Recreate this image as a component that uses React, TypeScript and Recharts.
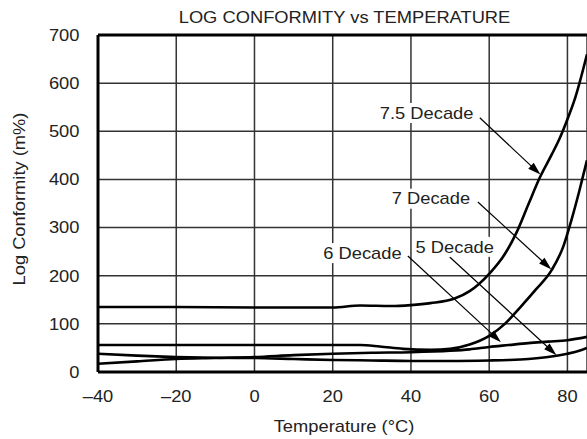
import React from 'react';
import { LineChart, Line, XAxis, YAxis, CartesianGrid, ReferenceLine, ReferenceDot } from 'recharts';

const xTicks = [-40, -20, 0, 20, 40, 60, 80];
const yTicks = [0, 100, 200, 300, 400, 500, 600, 700];

const temp75 = [-40, -20, 0, 20, 27, 35, 40, 45, 51, 55, 60, 64, 67, 70, 73, 76, 78, 80, 82, 85];
const conf75 = [135, 135, 134, 134, 138, 137, 139, 143, 152, 168, 204, 245, 290, 348, 405, 452, 485, 525, 570, 660];

const temp70 = [-40, -20, 0, 20, 27, 32, 38, 45, 50, 55, 60, 64, 68, 72, 76, 79, 81, 83, 85];
const conf70 = [56, 56, 56, 56, 56, 53, 48, 46, 48, 57, 75, 100, 135, 172, 212, 262, 315, 375, 440];

const temp60 = [-40, -30, -20, -10, 0, 10, 20, 30, 40, 50, 55, 60, 65, 70, 75, 80, 85];
const conf60 = [17, 22, 27, 29, 31, 35, 38, 40, 41, 44, 47, 52, 56, 60, 63, 66, 73];

const temp50 = [-40, -30, -20, -10, 0, 10, 20, 30, 40, 50, 60, 65, 70, 75, 80, 83, 85];
const conf50 = [38, 34, 31, 29.5, 29, 27, 25, 24, 23, 23, 24, 25, 27, 31, 38, 44, 50];

const labelText = ['7.5 Decade', '7 Decade', '6 Decade', '5 Decade'];
const labelAt = [[44.0, 538], [45.1, 360], [27.6, 247], [51.2, 260]];
const arrowFrom = [[57.6, 528], [57.1, 353], [39.2, 241], [49.9, 239]];
const arrowTo = [[73.1, 410], [75.9, 213], [63.0, 62], [77.2, 35]];

const toPoints = (t: number[], c: number[]) => t.map((x, i) => ({ x, y: c[i] }));

const seriesList = [
  { name: '7.5 Decade', data: toPoints(temp75, conf75) },
  { name: '7 Decade', data: toPoints(temp70, conf70) },
  { name: '6 Decade', data: toPoints(temp60, conf60) },
  { name: '5 Decade', data: toPoints(temp50, conf50) },
];

const FONT = '"Liberation Sans", Arial, sans-serif';
const SX = 1.145;
const TXT = '#222';

const fmtX = (v: number) => (v < 0 ? '\u2013' + Math.abs(v) : String(v));

const WideText = ({ x, y, anchor, children, rotate = 0, baseline }: any) => (
  <text
    transform={`translate(${x},${y}) rotate(${rotate}) scale(${SX},1)`}
    x={0}
    y={0}
    textAnchor={anchor}
    dominantBaseline={baseline}
    fontFamily={FONT}
    fontSize={16}
    fill={TXT}
  >
    {children}
  </text>
);

const XTick = (p: any) => (
  <WideText x={p.x} y={401.5} anchor="middle">
    {fmtX(p.payload.value)}
  </WideText>
);

const YTick = (p: any) => (
  <WideText x={79.5} y={p.y + 5.8} anchor="end">
    {String(p.payload.value)}
  </WideText>
);

const Arrow = (p: any) => {
  const { x1, y1, x2, y2 } = p;
  const dx = x2 - x1;
  const dy = y2 - y1;
  const len = Math.hypot(dx, dy) || 1;
  const ux = dx / len;
  const uy = dy / len;
  const hl = 13;
  const hw = 4;
  const bx = x2 - ux * hl;
  const by = y2 - uy * hl;
  const pts = `${x2},${y2} ${bx - uy * hw},${by + ux * hw} ${bx + uy * hw},${by - ux * hw}`;
  return (
    <g>
      <line x1={x1} y1={y1} x2={bx + ux * 2} y2={by + uy * 2} stroke="#000" strokeWidth={1.2} />
      <polygon points={pts} fill="#000" />
    </g>
  );
};

const makeLabel = (text: string) => (p: any) => {
  const { cx, cy } = p;
  const w = text.length * 9.4 + 4;
  return (
    <g>
      <rect x={cx - w / 2} y={cy - 10} width={w} height={20} fill="#fff" />
      <WideText x={cx} y={cy + 5.8} anchor="middle">
        {text}
      </WideText>
    </g>
  );
};

export default function App() {
  return (
    <div style={{ position: 'absolute', left: 0, top: 0, width: 587, height: 439, background: '#fff' }}>
      <LineChart width={587} height={439} margin={{ top: 35, right: 0, bottom: 0, left: 0 }}>
        <CartesianGrid stroke="#333" strokeWidth={1.5} />
        <XAxis
          type="number"
          dataKey="x"
          domain={[-40, 85]}
          ticks={xTicks}
          height={67}
          tickLine={false}
          axisLine={{ stroke: '#000', strokeWidth: 3 }}
          tick={<XTick />}
          allowDataOverflow
        />
        <YAxis
          type="number"
          domain={[0, 700]}
          ticks={yTicks}
          width={98}
          tickLine={false}
          axisLine={{ stroke: '#000', strokeWidth: 3 }}
          tick={<YTick />}
          allowDataOverflow
        />
        <ReferenceLine y={700} stroke="#000" strokeWidth={3} />
        {labelText.map((t, i) => (
          <ReferenceDot key={'l' + i} x={labelAt[i][0]} y={labelAt[i][1]} r={1} shape={makeLabel(t)} />
        ))}
        {labelText.map((t, i) => (
          <ReferenceLine
            key={'a' + i}
            segment={[
              { x: arrowFrom[i][0], y: arrowFrom[i][1] },
              { x: arrowTo[i][0], y: arrowTo[i][1] },
            ]}
            stroke="#000"
            shape={Arrow}
          />
        ))}
        {seriesList.map((s) => (
          <Line
            key={s.name}
            name={s.name}
            data={s.data}
            dataKey="y"
            type="monotone"
            stroke="#000"
            strokeWidth={2.6}
            dot={false}
            isAnimationActive={false}
          />
        ))}
        <WideText x={344.5} y={23.3} anchor="middle">
          LOG CONFORMITY vs TEMPERATURE
        </WideText>
        <WideText x={344} y={431.5} anchor="middle">
          Temperature (°C)
        </WideText>
        <WideText x={24.7} y={199} anchor="middle" rotate={-90}>
          Log Conformity (m%)
        </WideText>
      </LineChart>
    </div>
  );
}
